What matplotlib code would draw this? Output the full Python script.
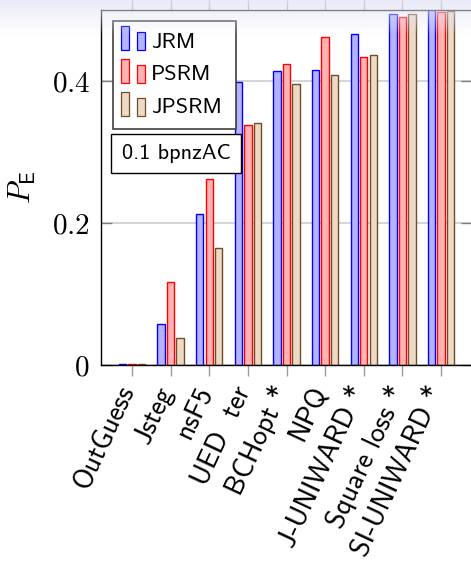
import os
import numpy as np
import matplotlib
matplotlib.use("Agg")
import matplotlib.pyplot as plt
import matplotlib.transforms as mtransforms
from matplotlib.font_manager import FontProperties
from matplotlib.patches import Rectangle

plt.rcParams['mathtext.fontset'] = 'cm'

# data (P_E at 0.1 bpnzAC)
schemes = ["OutGuess", "Jsteg", "nsF5", "UED  ter", "BCHopt *", "NPQ",
           "J-UNIWARD *", "Square loss *", "SI-UNIWARD *"]
jrm   = [0.001, 0.058, 0.212, 0.398, 0.414, 0.415, 0.465, 0.493, 0.502]
psrm  = [0.001, 0.117, 0.262, 0.338, 0.424, 0.462, 0.433, 0.489, 0.497]
jpsrm = [0.001, 0.038, 0.164, 0.340, 0.395, 0.408, 0.436, 0.493, 0.498]
series = ["JRM", "PSRM", "JPSRM"]

# pgfplots-like colours: X!30!white fill, X draw
fills = ["#b3b3ff", "#ffb3b3", "#ecd9c6"]
edges = ["#0000ff", "#ff0000", "#734d26"]

ttf = os.path.join(matplotlib.get_data_path(), "fonts", "ttf")
sans = FontProperties(fname=os.path.join(ttf, "cmss10.ttf"))

W, H = 471, 563
fig = plt.figure(figsize=(W / 100, H / 100), dpi=100)
ax = fig.add_axes([101 / W, 1 - 365 / H, 371 / W, 355.5 / H])

x = np.arange(len(schemes))
off = 0.244
wid = 0.19
for i, vals in enumerate([jrm, psrm, jpsrm]):
    ax.bar(x + (i - 1) * off, vals, width=wid, color=fills[i],
           edgecolor=edges[i], linewidth=1.0, label=series[i], zorder=2)

ax.set_xlim(-0.8, 8.8)
ax.set_ylim(0, 0.5)
ax.set_yticks([0, 0.2, 0.4])
ax.set_yticklabels([r"$0$", r"$0.2$", r"$0.4$"], fontsize=21)
ax.set_xticks(x)
ax.set_xticklabels(schemes, rotation=65, ha="right", va="center",
                   rotation_mode="anchor", fontproperties=sans, fontsize=20)
ax.tick_params(axis="x", direction="out", length=8, width=1, color="#9a9a9a",
               top=True, pad=8)
ax.tick_params(axis="y", direction="in", length=8, width=1, color="#808080",
               right=True, pad=8)
# nudge the rotated names a little left of their ticks
shift = mtransforms.ScaledTranslation(-4 / 100, 0, fig.dpi_scale_trans)
for lab in ax.get_xticklabels():
    lab.set_transform(lab.get_transform() + shift)
ax.yaxis.grid(True, color="#d4d4d4", linewidth=1.4, zorder=0)
ax.set_axisbelow(True)
for s in ax.spines.values():
    s.set_linewidth(1.0)
    s.set_color("black")
ax.set_ylabel(r"$P_{\mathsf{E}}$", fontsize=22, labelpad=10)


# legend drawn by hand in pixel coords (two little bars + name per row)
def px(xp, yp):
    return xp / W, 1 - yp / H


lx0, ly0, lx1, ly1 = 113, 21, 236, 129
fig.patches.append(Rectangle(px(lx0, ly1), (lx1 - lx0) / W, (ly1 - ly0) / H,
                             transform=fig.transFigure, facecolor="white",
                             edgecolor="#404040", linewidth=1.2, zorder=5))
for i in range(3):
    yb = 50 + 33 * i
    fig.patches.append(Rectangle(px(121, yb), 8 / W, 24 / H,
                                 transform=fig.transFigure, facecolor=fills[i],
                                 edgecolor=edges[i], linewidth=0.9, zorder=6))
    fig.patches.append(Rectangle(px(137, yb), 8 / W, 18 / H,
                                 transform=fig.transFigure, facecolor=fills[i],
                                 edgecolor=edges[i], linewidth=0.9, zorder=6))
    fig.text(*px(151, yb - 8), series[i], fontproperties=sans, fontsize=16,
             ha="left", va="center", zorder=7)

# bitrate box
bx0, by0, bx1, by1 = 111, 134, 241, 173
fig.patches.append(Rectangle(px(bx0, by1), (bx1 - bx0) / W, (by1 - by0) / H,
                             transform=fig.transFigure, facecolor="white",
                             edgecolor="black", linewidth=1.0, zorder=5))
fig.text(*px((bx0 + bx1) / 2, (by0 + by1) / 2), "0.1 bpnzAC",
         fontproperties=sans, fontsize=16, ha="center", va="center", zorder=7)

# faint screen tint along the top edge
g = np.zeros((36, W, 4))
g[..., 0] = 0.90
g[..., 1] = 0.90
g[..., 2] = 0.97
g[..., 3] = np.linspace(0.8, 0.0, 36)[:, None]
fig.figimage(g, xo=0, yo=H - 36, origin="upper", zorder=10)

fig.savefig("out.png", dpi=100)
